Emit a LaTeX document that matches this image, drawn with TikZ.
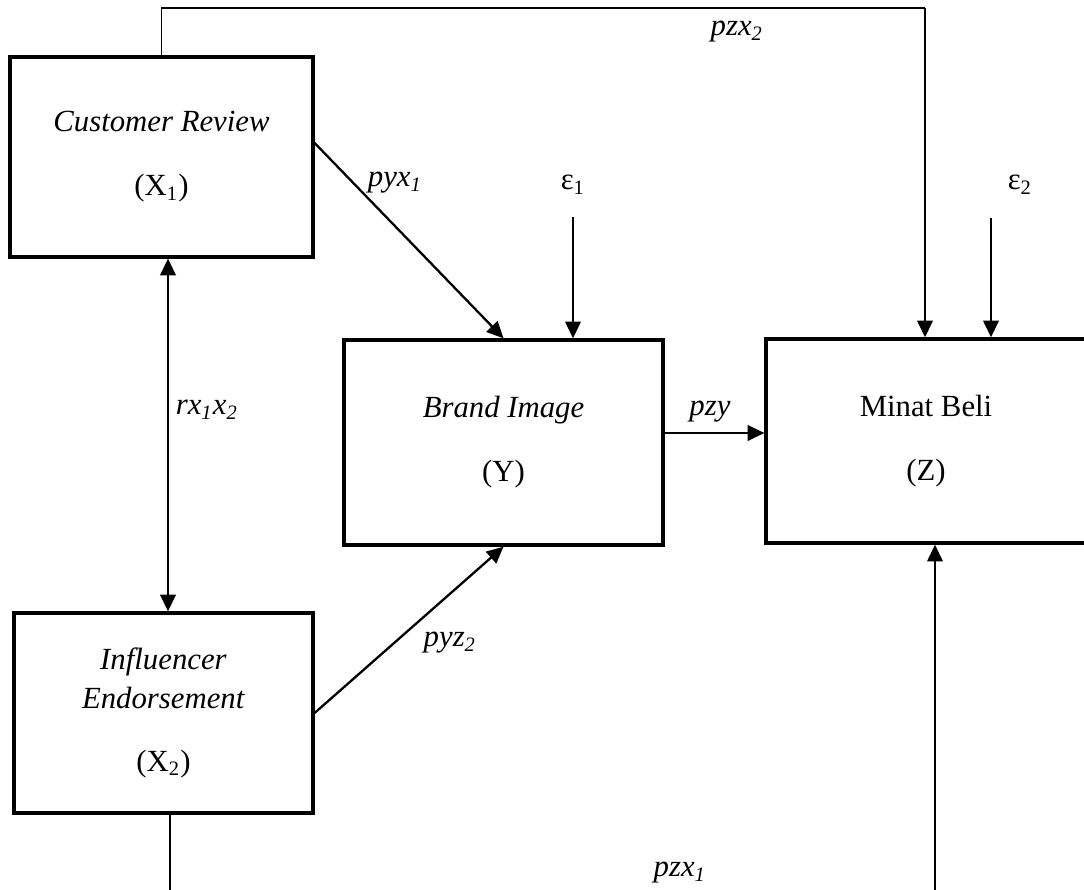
\documentclass[tikz,border=0pt]{standalone}
\usepackage{fontspec}
\setmainfont{Liberation Serif}
\usetikzlibrary{arrows.meta}
\tikzset{
  varbox/.style={draw,line width=1.25pt,align=center,inner sep=0pt,font=\fontsize{12}{25}\selectfont},
  arr/.style={line width=0.9pt,-{Triangle[length=6.5pt,width=6pt]}},
  arrboth/.style={line width=0.9pt,{Triangle[length=6.5pt,width=6pt]}-{Triangle[length=6.5pt,width=6pt]}},
  thinline/.style={line width=0.45pt},
  lbl/.style={font=\fontsize{12}{14}\selectfont\itshape,inner sep=0pt}
}
\begin{document}
\begin{tikzpicture}[x=0.39pt,y=-0.39pt,line join=miter]
		\useasboundingbox (0,0) rectangle (1084,890);
		\clip (0,0) rectangle (1084,890);
		\node[varbox,minimum width=118.2pt,minimum height=78pt] (x1) at (161.5,157) {\textit{Customer Review}\\(X\textsubscript{1})};
		\node[varbox,minimum width=116.6pt,minimum height=78pt,font=\fontsize{12}{15}\selectfont] (x2) at (163.5,713) {\textit{Influencer}\\\textit{Endorsement}\\[9.5pt](X\textsubscript{2})};
		\node[varbox,minimum width=124.4pt,minimum height=80pt] (y) at (503.5,442.5) {\textit{Brand Image}\\(Y)};
		\node[varbox,minimum width=124.8pt,minimum height=79.6pt] (z) at (926,441) {Minat Beli\\(Z)};
		\node[font=\fontsize{12}{14}\selectfont,inner sep=0pt] (e1) at (573,185) {ε\textsubscript{1}};
		\node[font=\fontsize{12}{14}\selectfont,inner sep=0pt] (e2) at (1020,185) {ε\textsubscript{2}};
		\coordinate (topr) at (925,8);
		\coordinate (botl) at (170,960);
		\coordinate (botr) at (935,960);
		\coordinate (e2s) at (991,218);
		% outer paths
		\draw[thinline] (x1.north) |- (topr);
		\draw[arr] (topr) -- (topr |- z.north);
		\draw[thinline] (x2.south -| botl) -- (botl) -- (botr);
		\draw[arr] (botr) -- (botr |- z.south);
		% inner paths
		\draw[arr] (x1.east |- 0,143) -- (y.north);
		\draw[arr] (x2.east) -- (y.south);
		\draw[arr] (y.east |- 0,433) -- (z.west |- 0,433);
		\draw[arrboth] (168,0 |- x1.south) -- (168,0 |- x2.north);
		\draw[arr] (e1.south |- 0,217) -- (e1.south |- y.north);
		\draw[arr] (e2s) -- (e2s |- z.north);
		\node[lbl] (l1) at (737,32) {pzx\textsubscript{2}};
		\node[lbl] (l2) at (395,183) {pyx\textsubscript{1}};
		\node[lbl] (l3) at (207,410) {rx\textsubscript{1}x\textsubscript{2}};
		\node[lbl] (l4) at (450,643) {pyz\textsubscript{2}};
		\node[lbl] (l5) at (710,412) {pzy};
		\node[lbl] (l6) at (680,873) {pzx\textsubscript{1}};
		\end{tikzpicture}
\end{document}
